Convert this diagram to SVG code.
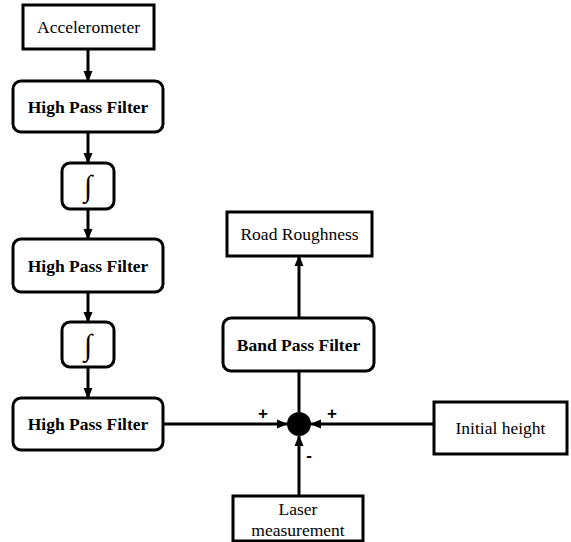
<svg xmlns="http://www.w3.org/2000/svg" width="571" height="542" viewBox="0 0 571 542">
<defs>
<marker id="ah" markerWidth="11" markerHeight="10" refX="10" refY="5" orient="auto" markerUnits="userSpaceOnUse">
<path d="M0,0.5 L11,5 L0,9.5 Z" fill="#000"/>
</marker>
<style>
.box{fill:#fff;stroke:#000;stroke-width:3}
.t{font-family:"Liberation Serif",serif;font-size:17.5px;text-anchor:middle;fill:#000}
.b{font-weight:bold}
.i{font-size:30px}
.c{stroke:#000;stroke-width:3;fill:none;marker-end:url(#ah)}
.s{font-family:"Liberation Sans",sans-serif;font-weight:bold;font-size:17px;text-anchor:middle;fill:#000}
</style>
</defs>
<rect width="571" height="542" fill="#fff"/>
<g id="connectors">
<line class="c" x1="88" y1="49" x2="88" y2="81"/>
<line class="c" x1="88" y1="132" x2="88" y2="163"/>
<line class="c" x1="88" y1="209" x2="88" y2="239"/>
<line class="c" x1="88" y1="292" x2="88" y2="322"/>
<line class="c" x1="88" y1="367" x2="88" y2="398"/>
<line class="c" x1="163" y1="424" x2="287" y2="424"/>
<line class="c" x1="434" y1="424" x2="311" y2="424"/>
<line class="c" x1="299" y1="496" x2="299" y2="436"/>
<line class="c" x1="299" y1="412" x2="299" y2="318"/>
<line class="c" x1="299" y1="318" x2="299" y2="256"/>
</g>
<g id="accelerometer"><rect class="box" x="23" y="5" width="131" height="44"/><text class="t" x="88.5" y="33">Accelerometer</text></g>
<g id="hpf1"><rect class="box" x="13" y="81" width="150" height="51" rx="8"/><text class="t b" x="88" y="113">High Pass Filter</text></g>
<g id="int1"><rect class="box" x="62" y="163" width="52" height="46" rx="8"/><text class="t i" x="88" y="196">∫</text></g>
<g id="hpf2"><rect class="box" x="13" y="239" width="150" height="53" rx="8"/><text class="t b" x="88" y="272">High Pass Filter</text></g>
<g id="int2"><rect class="box" x="62" y="322" width="52" height="45" rx="8"/><text class="t i" x="88" y="355">∫</text></g>
<g id="hpf3"><rect class="box" x="13" y="398" width="150" height="52" rx="8"/><text class="t b" x="88" y="430">High Pass Filter</text></g>
<g id="sum"><circle cx="299" cy="424" r="12" fill="#000"/></g>
<g id="signs"><text class="s" x="263" y="419">+</text><text class="s" x="332" y="419">+</text><text class="s" x="309" y="461">-</text></g>
<g id="initial"><rect class="box" x="434" y="402" width="133" height="52"/><text class="t" x="500.5" y="434">Initial height</text></g>
<g id="laser"><rect class="box" x="233" y="496" width="130" height="45"/><text class="t" x="298" y="515">Laser</text><text class="t" x="298" y="536">measurement</text></g>
<g id="bpf"><rect class="box" x="223" y="318" width="151" height="53" rx="8"/><text class="t b" x="298.5" y="351">Band Pass Filter</text></g>
<g id="road"><rect class="box" x="227" y="212" width="145" height="44"/><text class="t" x="299.5" y="240">Road Roughness</text></g>
</svg>
